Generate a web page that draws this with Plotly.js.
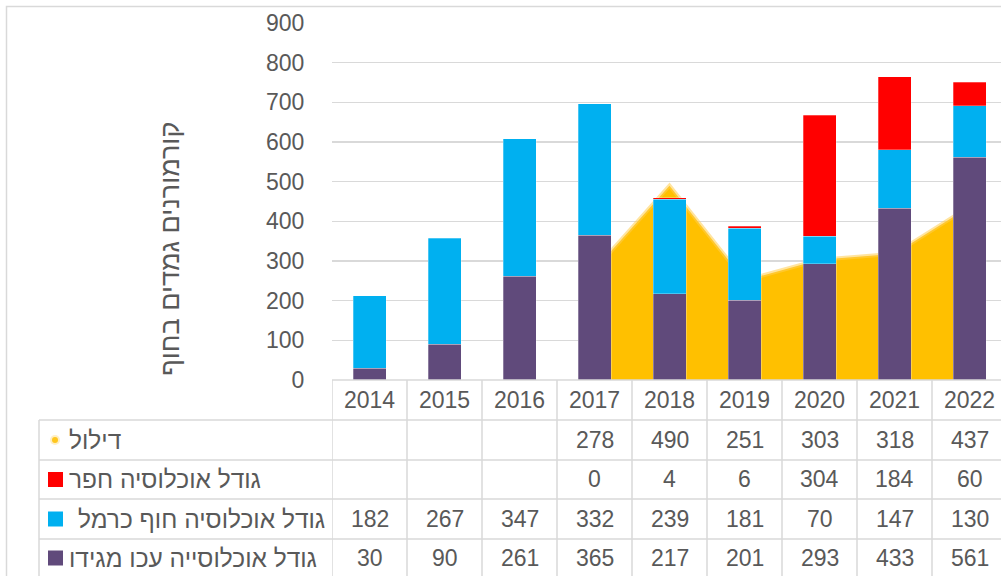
<!DOCTYPE html>
<html><head><meta charset="utf-8">
<script src="https://cdn.plot.ly/plotly-3.0.1.min.js"></script>
<style>html,body{margin:0;padding:0;background:#fff;}#chart{width:1001px;height:576px;}</style>
</head><body><div id="chart"></div>
<script>
// ---- data ----
const years   = ['2014','2015','2016','2017','2018','2019','2020','2021','2022'];
const akko    = [30, 90, 261, 365, 217, 201, 293, 433, 561];
const carmel  = [182, 267, 347, 332, 239, 181, 70, 147, 130];
const hefer   = [null, null, null, 0, 4, 6, 304, 184, 60];
const dilul   = [null, null, null, 278, 490, 251, 303, 318, 437];
const nameDilul  = 'דילול';
const nameHefer  = 'גודל אוכלוסיה חפר';
const nameCarmel = 'גודל אוכלוסיה חוף כרמל';
const nameAkko   = 'גודל אוכלוסייה עכו מגידו';
const yTitle     = 'קורמורנים גמדים בחוף';
const yTicks     = [0,100,200,300,400,500,600,700,800,900];

// ---- styling ----
const C_AKKO='#604A7B', C_CARMEL='#00B0F0', C_HEFER='#FF0000', C_DILUL='#FFC000';
const TXT='#595959', GRID='#d9d9d9';
const FONT='Liberation Sans, Arial, sans-serif';
const W=1001, H=576, L=332, R=1001, T=23, B=380;
const px2x = p => (p - L)/(R - L);
const py2y = p => (B - p)/(B - T);
const xRange = [-0.5, -0.5 + (R - L)/75];

// area (base subplot, behind bars)
const dx=[], dy=[];
years.forEach((y,i)=>{ if(dilul[i]!==null){dx.push(y); dy.push(dilul[i]);} });
const traces = [
  {type:'scatter', x:dx, y:dy, mode:'lines', fill:'tozeroy', fillcolor:C_DILUL,
   line:{color:'rgba(255,205,80,0.55)', width:4}, xaxis:'x', yaxis:'y', hoverinfo:'skip', showlegend:false},
  {type:'bar', name:nameAkko, x:years, y:akko, marker:{color:C_AKKO, line:{color:'rgba(255,255,255,0.35)', width:0.8}}, width:0.44, xaxis:'x2', yaxis:'y2'},
  {type:'bar', name:nameCarmel, x:years, y:carmel, marker:{color:C_CARMEL, line:{color:'rgba(255,255,255,0.35)', width:0.8}}, width:0.44, xaxis:'x2', yaxis:'y2'},
  {type:'bar', name:nameHefer, x:years, y:hefer, marker:{color:C_HEFER, line:{color:'rgba(255,255,255,0.35)', width:0.8}}, width:0.44, xaxis:'x2', yaxis:'y2'}
];

const shapes = [];
const annotations = [];
// outer chart border
shapes.push({type:'rect', xref:'paper', yref:'paper', x0:px2x(6.5), x1:px2x(1010), y0:py2y(590), y1:py2y(6.5),
  line:{color:GRID, width:1.5}, fillcolor:'rgba(0,0,0,0)', layer:'below'});
// table horizontal lines
const rowLines=[420,460,499,539];
shapes.push({type:'line', xref:'paper', yref:'paper', x0:0, x1:1, y0:py2y(380), y1:py2y(380), line:{color:GRID, width:1.5}});
rowLines.forEach(p=>shapes.push({type:'line', xref:'paper', yref:'paper', x0:px2x(39), x1:1, y0:py2y(p), y1:py2y(p), line:{color:GRID, width:1.5}}));
// left border of label column
shapes.push({type:'line', xref:'paper', yref:'paper', x0:px2x(39), x1:px2x(39), y0:py2y(420), y1:py2y(590), line:{color:GRID, width:1.5}});
// category boundaries
for(let i=0;i<=years.length;i++){
  shapes.push({type:'line', xref:'x', yref:'paper', x0:i-0.5, x1:i-0.5, y0:py2y(380), y1:py2y(590), line:{color:GRID, width:1.5}});
}
// header years
const fnum={family:FONT, size:23, color:TXT};
years.forEach((y,i)=>annotations.push({xref:'x', yref:'paper', x:i, y:py2y(400), text:y, showarrow:false, font:fnum, xanchor:'center', yanchor:'middle'}));
// rows
const rows=[
  {name:nameDilul, vals:dilul, color:C_DILUL, cy:440, dot:true},
  {name:nameHefer, vals:hefer, color:C_HEFER, cy:479.5},
  {name:nameCarmel, vals:carmel, color:C_CARMEL, cy:519, indent:9},
  {name:nameAkko, vals:akko, color:C_AKKO, cy:558}
];
rows.forEach(r=>{
  r.vals.forEach((v,i)=>{ if(v!==null) annotations.push({xref:'x', yref:'paper', x:i, y:py2y(r.cy), text:String(v), showarrow:false, font:fnum, xanchor:'center', yanchor:'middle'}); });
  annotations.push({xref:'paper', yref:'paper', x:px2x(67 + (r.indent||0)), y:py2y(r.cy), text:r.name, showarrow:false,
    font:{family:FONT, size:24.5, color:TXT}, xanchor:'left', yanchor:'middle'});
  if(r.dot){
    shapes.push({type:'circle', xref:'paper', yref:'paper', x0:px2x(50), x1:px2x(60), y0:py2y(r.cy-5), y1:py2y(r.cy+5), line:{width:0}, fillcolor:'rgba(255,210,90,0.35)'});
    shapes.push({type:'circle', xref:'paper', yref:'paper', x0:px2x(52), x1:px2x(58), y0:py2y(r.cy-3), y1:py2y(r.cy+3), line:{width:0}, fillcolor:'rgba(255,192,0,0.85)'});
  } else {
    shapes.push({type:'rect', xref:'paper', yref:'paper', x0:px2x(48), x1:px2x(63), y0:py2y(r.cy-7.5), y1:py2y(r.cy+7.5), line:{width:0}, fillcolor:r.color});
  }
});
// y title
annotations.push({xref:'paper', yref:'paper', x:px2x(170), y:py2y(249), text:yTitle, textangle:-90, showarrow:false,
  font:{family:FONT, size:27, color:TXT}, xanchor:'center', yanchor:'middle'});

const layout = {
  width:W, height:H, margin:{l:L, r:W-R, t:T, b:H-B, pad:0},
  paper_bgcolor:'#fff', plot_bgcolor:'rgba(0,0,0,0)', showlegend:false, barmode:'stack',
  xaxis:{type:'category', categoryorder:'array', categoryarray:years, range:xRange, showticklabels:false, ticks:'', showgrid:false, zeroline:false, showline:false, fixedrange:true},
  yaxis:{range:[0,900], tickvals:yTicks, showgrid:true, gridcolor:GRID, gridwidth:1.3, zeroline:false, showline:false,
    ticks:'outside', ticklen:22, tickcolor:'rgba(0,0,0,0)', tickfont:{family:FONT, size:23, color:TXT}},
  xaxis2:{type:'category', categoryorder:'array', categoryarray:years, range:xRange, overlaying:'x', visible:false},
  yaxis2:{range:[0,900], overlaying:'y', visible:false},
  shapes:shapes, annotations:annotations
};
Plotly.newPlot('chart', traces, layout, {staticPlot:true, displayModeBar:false});
</script></body></html>
